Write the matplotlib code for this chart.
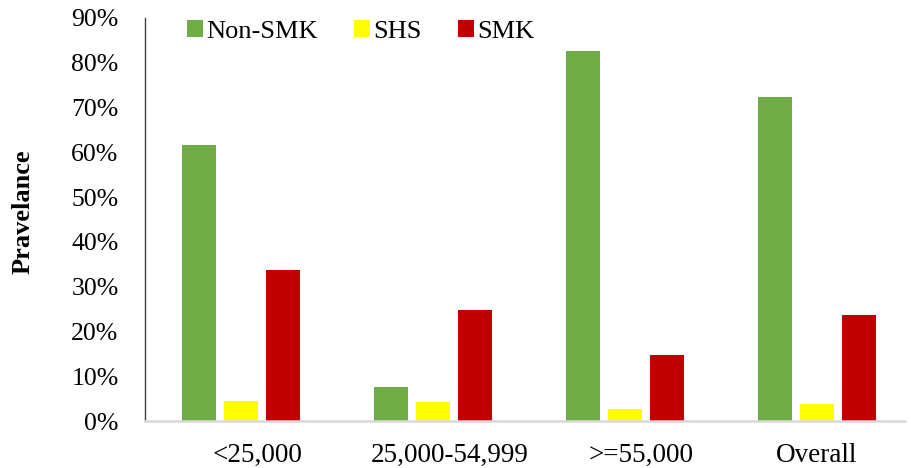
import matplotlib
matplotlib.use("Agg")
import matplotlib.pyplot as plt
import matplotlib.transforms as mtransforms
import numpy as np
from matplotlib.patches import Patch

categories = ["<25,000", "25,000-54,999", ">=55,000", "Overall"]
series = ["Non-SMK", "SHS", "SMK"]
non_smk = [61.6, 7.7, 82.6, 72.4]
shs = [4.5, 4.3, 2.7, 3.7]
smk = [33.7, 24.7, 14.7, 23.7]
colors = ["#70AD47", "#FFFF00", "#C00000"]
yticks = [0, 10, 20, 30, 40, 50, 60, 70, 80, 90]

plt.rcParams['font.family'] = ['Liberation Serif', 'DejaVu Serif']

fig = plt.figure(figsize=(9.11, 4.68), dpi=100)
ax = fig.add_axes([145 / 911, 47 / 468, 768 / 911, 403 / 468])

x = np.arange(len(categories))
w = 0.177
step = 0.221
for i, (vals, c) in enumerate(zip([non_smk, shs, smk], colors)):
    ax.bar(x + (i - 1) * step, vals, width=w, color=c, label=series[i])

ax.set_xlim(-0.5, 3.5)
ax.set_ylim(0, 90)
ax.set_yticks(yticks)
ax.set_yticklabels([f"{v}%" for v in yticks], fontsize=18.5)
ax.set_xticks(x)
ax.set_xticklabels(categories, fontsize=19.5)
ax.tick_params(axis='y', length=0, pad=19)
ax.tick_params(axis='x', length=0, pad=16)
# label offsets as in the reference (first three labels sit slightly right)
offsets_px = [17, 17, 16, 0]
for lbl, dx in zip(ax.get_xticklabels(), offsets_px):
    lbl.set_transform(lbl.get_transform() +
                      mtransforms.ScaledTranslation(dx / 100, 0, fig.dpi_scale_trans))
for s in ['top', 'right']:
    ax.spines[s].set_visible(False)
ax.spines['left'].set_color('#404040')
ax.spines['left'].set_linewidth(1.0)
ax.spines['bottom'].set_color('#D9D9D9')
ax.spines['bottom'].set_linewidth(1.8)
ax.spines['bottom'].set_bounds(-0.5, 3.46)

ax.set_ylabel("Pravelance", fontsize=19, fontweight='bold')
ax.yaxis.set_label_coords(-0.144, 0.519)

handles = [Patch(facecolor=c, edgecolor='none') for c in colors]
fig.legend(handles, series, loc='upper left', bbox_to_anchor=(175 / 911, 1 - 8 / 468),
           ncol=3, frameon=False, fontsize=19, handlelength=0.6, handleheight=0.6,
           handletextpad=0.15, columnspacing=1.35, borderaxespad=0.25, borderpad=0.2)

fig.savefig("out.png", dpi=100)
